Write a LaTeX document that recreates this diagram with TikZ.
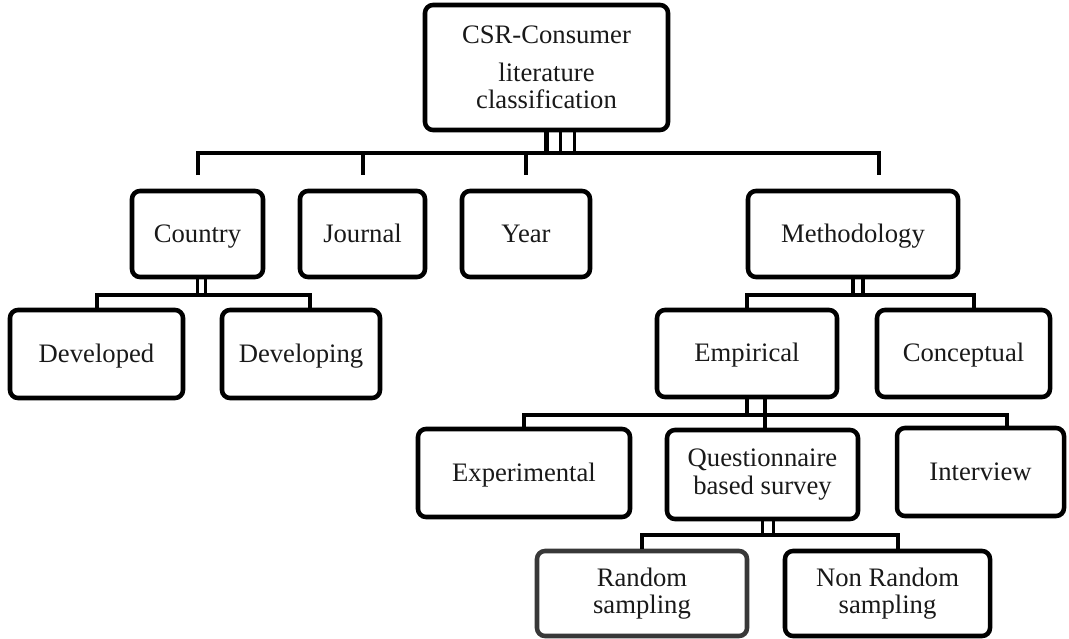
\documentclass[tikz,border=0pt]{standalone}
\usepackage{fontspec}
\setmainfont{Liberation Serif}
\usetikzlibrary{calc}
\begin{document}
\begin{tikzpicture}[x=0.75pt,y=-0.75pt,
  box/.style={draw=black, line width=3.4pt, rounded corners=6pt, inner sep=0pt,
    align=center, text=black!90, font=\fontsize{20}{20.5}\selectfont},
  oneline/.style={box, text height=13pt, text depth=1pt},
  greybox/.style={box, draw=black!78},
  sz/.style 2 args={minimum width=#1*0.75pt, minimum height=#2*0.75pt},
  conn/.style={draw=black, line width=3pt},
  twin/.style={draw=black, line width=2.6pt},
  heavy/.style={draw=black, line width=3.8pt}]
\useasboundingbox (0,0) rectangle (1069,638);

% ---- boxes ----
\node[box, sz={243}{125}] (root) at (546.5,67.5) {CSR-Consumer\\[8pt]literature\\classification};

\node[oneline, sz={131}{86}] (country) at (197.5,234) {Country};
\node[oneline, sz={125}{86}] (journal) at (362.5,234) {Journal};
\node[oneline, sz={128}{86}] (year)    at (526,234)   {Year};
\node[oneline, sz={210}{86}] (method)  at (853,234)   {Methodology};

\node[oneline, sz={173}{88}] (developed)  at (96.5,354)   {Developed};
\node[oneline, sz={158}{88}] (developing) at (301,354)    {Developing};
\node[oneline, sz={180}{87}] (empirical)  at (747,353.5)  {Empirical};
\node[oneline, sz={173}{87}] (conceptual) at (963.5,353.5){Conceptual};

\node[oneline, sz={212}{88}] (experimental) at (524,473)   {Experimental};
\node[box, sz={191}{89}] (survey) at (762.5,474.5){Questionnaire\\based survey};
\node[oneline, sz={167}{88}] (interview)    at (980.5,472) {Interview};

\node[greybox, sz={210}{85}] (random)    at (642,593.5)   {Random\\sampling};
\node[box,     sz={205}{85}] (nonrandom) at (887.5,593.5) {Non Random\\sampling};

% ---- bus levels ----
\coordinate (topbus) at (0,153);
\coordinate (toptip) at (0,175);
\coordinate (cbus) at (0,295);
\coordinate (mbus) at (0,295);
\coordinate (ebus) at (0,415);
\coordinate (sbus) at (0,535);

% ---- root to first level ----
\draw[heavy] (root.south) -- (root.south |- topbus);
\draw[twin] ($(root.south)+(14,0)$) -- ($(root.south |- topbus)+(14,0)$);
\draw[twin] ($(root.south)+(28,0)$) -- ($(root.south |- topbus)+(28,0)$);
\coordinate (mstub) at ($(method.north)+(26,0)$);
\draw[conn] (country.north |- toptip) -- (country.north |- topbus)
  -- (mstub |- topbus) -- (mstub |- toptip);
\draw[conn] (journal.north |- topbus) -- (journal.north |- toptip);
\draw[conn] (year.north |- topbus) -- (year.north |- toptip);

% ---- country ----
\draw[twin] (country.south) -- (country.south |- cbus);
\draw[twin] ($(country.south)+(8,0)$) -- ($(country.south |- cbus)+(8,0)$);
\coordinate (devstub) at ($(developing.north)+(9,0)$);
\draw[conn] (developed.north) -- (developed.north |- cbus) -- (devstub |- cbus) -- (devstub);

% ---- methodology ----
\draw[twin] (method.south) -- (method.south |- mbus);
\draw[twin] ($(method.south)+(10,0)$) -- ($(method.south |- mbus)+(10,0)$);
\coordinate (constub) at ($(conceptual.north)+(10,0)$);
\draw[conn] (empirical.north) -- (empirical.north |- mbus) -- (constub |- mbus) -- (constub);

% ---- empirical ----
\draw[twin] (empirical.south) -- (empirical.south |- ebus);
\coordinate (estub) at ($(empirical.south)+(18,0)$);
\draw[conn] (estub) -- (estub |- survey.north);
\coordinate (intstub) at ($(interview.north)+(26,0)$);
\draw[conn] (experimental.north) -- (experimental.north |- ebus) -- (intstub |- ebus) -- (intstub);

% ---- questionnaire ----
\draw[twin] (survey.south) -- (survey.south |- sbus);
\draw[twin] ($(survey.south)+(11,0)$) -- ($(survey.south |- sbus)+(11,0)$);
\coordinate (nrstub) at ($(nonrandom.north)+(10,0)$);
\draw[conn] (random.north) -- (random.north |- sbus) -- (nrstub |- sbus) -- (nrstub);
\end{tikzpicture}
\end{document}
